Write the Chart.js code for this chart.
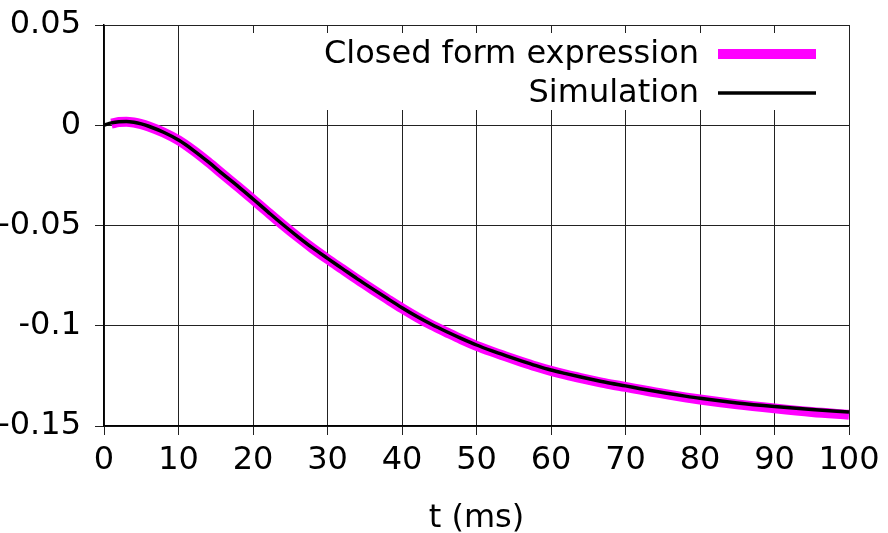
<!DOCTYPE html>
<html>
<head>
<meta charset="utf-8">
<script src="https://cdn.jsdelivr.net/npm/chart.js@4/dist/chart.umd.min.js"></script>
<style>
html,body{margin:0;padding:0;background:#fff;}
#wrap{width:888px;height:533px;position:relative;}
</style>
</head>
<body>
<div id="wrap"><canvas id="c" width="888" height="533"></canvas></div>
<script>
// ---- data ----
const seriesLabels = ["Closed form expression", "Simulation"];
const xTicks = [0, 10, 20, 30, 40, 50, 60, 70, 80, 90, 100];
const yTicks = [-0.15, -0.1, -0.05, 0, 0.05];
const yTickLabels = ["-0.15", "-0.1", "-0.05", "0", "0.05"];
const xTitle = "t (ms)";

const tSim = [0, 1, 2, 3, 4, 5, 6, 8, 10, 12, 14, 16, 18, 20, 22, 24, 26, 28, 30, 32, 34, 36, 38, 40,
  42, 44, 46, 48, 50, 52, 54, 56, 58, 60, 62, 64, 66, 68, 70, 72, 74, 76, 78, 80, 85, 90, 95, 100];
const simVals = [0, 0.0012, 0.0018, 0.0019, 0.0015, 0.0007, -0.0005, -0.0035, -0.0074, -0.0125, -0.0183,
  -0.0245, -0.0305, -0.0368, -0.0432, -0.0495, -0.0555, -0.0612, -0.0664, -0.0715, -0.0766, -0.0815,
  -0.0863, -0.0910, -0.0954, -0.0994, -0.1030, -0.1064, -0.1096, -0.1124, -0.1150, -0.1175, -0.1199,
  -0.1221, -0.1239, -0.1256, -0.1272, -0.1287, -0.1300, -0.1314, -0.1327, -0.1339, -0.1351, -0.1362,
  -0.1385, -0.1403, -0.1418, -0.1430];

const tClosed = [1, 2, 3, 4, 5, 6, 8, 10, 12, 14, 16, 18, 20, 22, 24, 26, 28, 30, 32, 34, 36, 38, 40,
  42, 44, 46, 48, 50, 52, 54, 56, 58, 60, 62, 64, 66, 68, 70, 72, 74, 76, 78, 80, 85, 90, 95, 100];
const closedVals = [0.0008, 0.0016, 0.0018, 0.0014, 0.0006, -0.0006, -0.0036, -0.0075, -0.0126, -0.0184,
  -0.0246, -0.0307, -0.0370, -0.0434, -0.0497, -0.0557, -0.0614, -0.0667, -0.0718, -0.0769, -0.0818,
  -0.0866, -0.0913, -0.0957, -0.0997, -0.1033, -0.1068, -0.1100, -0.1128, -0.1154, -0.1179, -0.1203,
  -0.1225, -0.1244, -0.1261, -0.1277, -0.1292, -0.1305, -0.1319, -0.1332, -0.1345, -0.1357, -0.1368,
  -0.1392, -0.1412, -0.1430, -0.1444];

const closedColor = "#ff00ff";
const simColor = "#000000";

Chart.defaults.font.family = "'DejaVu Sans', sans-serif";
Chart.defaults.font.size = 32;
Chart.defaults.color = "#000";

const keyPlugin = {
  id: "gnuplotKey",
  beforeDatasetsDraw(chart) {
    const ctx = chart.ctx;
    const a = chart.chartArea;
    ctx.save();
    ctx.fillStyle = "#fff";
    ctx.fillRect(a.left + 78, a.top + 8, a.right - 1 - (a.left + 78), 77);
    ctx.restore();
  },
  afterDatasetsDraw(chart) {
    const ctx = chart.ctx;
    const a = chart.chartArea;
    const ds = chart.data.datasets;
    const textRight = a.right - 150;
    const x0 = a.right - 131, x1 = a.right - 33;
    const rows = [a.top + 29, a.top + 68];
    ctx.save();
    ctx.font = "32px 'DejaVu Sans'";
    ctx.textAlign = "right";
    ctx.textBaseline = "middle";
    ctx.fillStyle = "#000";
    ds.forEach((d, i) => {
      const y = rows[i];
      ctx.fillText(d.label, textRight, y + 1);
      ctx.beginPath();
      ctx.strokeStyle = d.borderColor;
      ctx.lineWidth = d.borderWidth;
      ctx.lineCap = "butt";
      ctx.moveTo(x0, y);
      ctx.lineTo(x1, y);
      ctx.stroke();
    });
    ctx.restore();
  }
};

new Chart(document.getElementById("c"), {
  type: "line",
  data: {
    datasets: [
      {
        label: seriesLabels[0],
        data: tClosed.map((t, i) => ({ x: t, y: closedVals[i] })),
        borderColor: closedColor,
        borderWidth: 10,
        pointRadius: 0,
        cubicInterpolationMode: "monotone",
        fill: false,
        order: 1
      },
      {
        label: seriesLabels[1],
        data: tSim.map((t, i) => ({ x: t, y: simVals[i] })),
        borderColor: simColor,
        borderWidth: 3.5,
        pointRadius: 0,
        cubicInterpolationMode: "monotone",
        fill: false,
        order: 0
      }
    ]
  },
  options: {
    responsive: false,
    animation: false,
    devicePixelRatio: 1,
    layout: { padding: { top: 25, right: 39, left: 0, bottom: 0 } },
    plugins: { legend: { display: false }, tooltip: { enabled: false } },
    scales: {
      x: {
        type: "linear",
        min: 0, max: 100,
        afterBuildTicks(s) { s.ticks = xTicks.map(v => ({ value: v })); },
        afterFit(s) { s.height = 107; s.paddingLeft = 0; s.paddingRight = 0; },
        grid: { color: "#222", lineWidth: 1, tickLength: 9, drawTicks: true },
        border: { color: "#000", width: 1.5 },
        ticks: { padding: 6, maxRotation: 0, autoSkip: false, callback: v => String(v) },
        title: { display: true, text: xTitle, padding: { top: 14, bottom: -5 }, font: { size: 32 } }
      },
      y: {
        type: "linear",
        min: -0.15, max: 0.05,
        afterBuildTicks(s) { s.ticks = yTicks.map(v => ({ value: v })); },
        afterFit(s) { s.width = 104; s.paddingTop = 0; s.paddingBottom = 0; },
        grid: { color: "#222", lineWidth: 1, tickLength: 9, drawTicks: true },
        border: { color: "#000", width: 1.5 },
        ticks: {
          padding: 14,
          callback: (v) => {
            const i = yTicks.findIndex(t => Math.abs(t - v) < 1e-9);
            return i >= 0 ? yTickLabels[i] : "";
          }
        }
      }
    }
  },
  plugins: [keyPlugin]
});
</script>
</body>
</html>
